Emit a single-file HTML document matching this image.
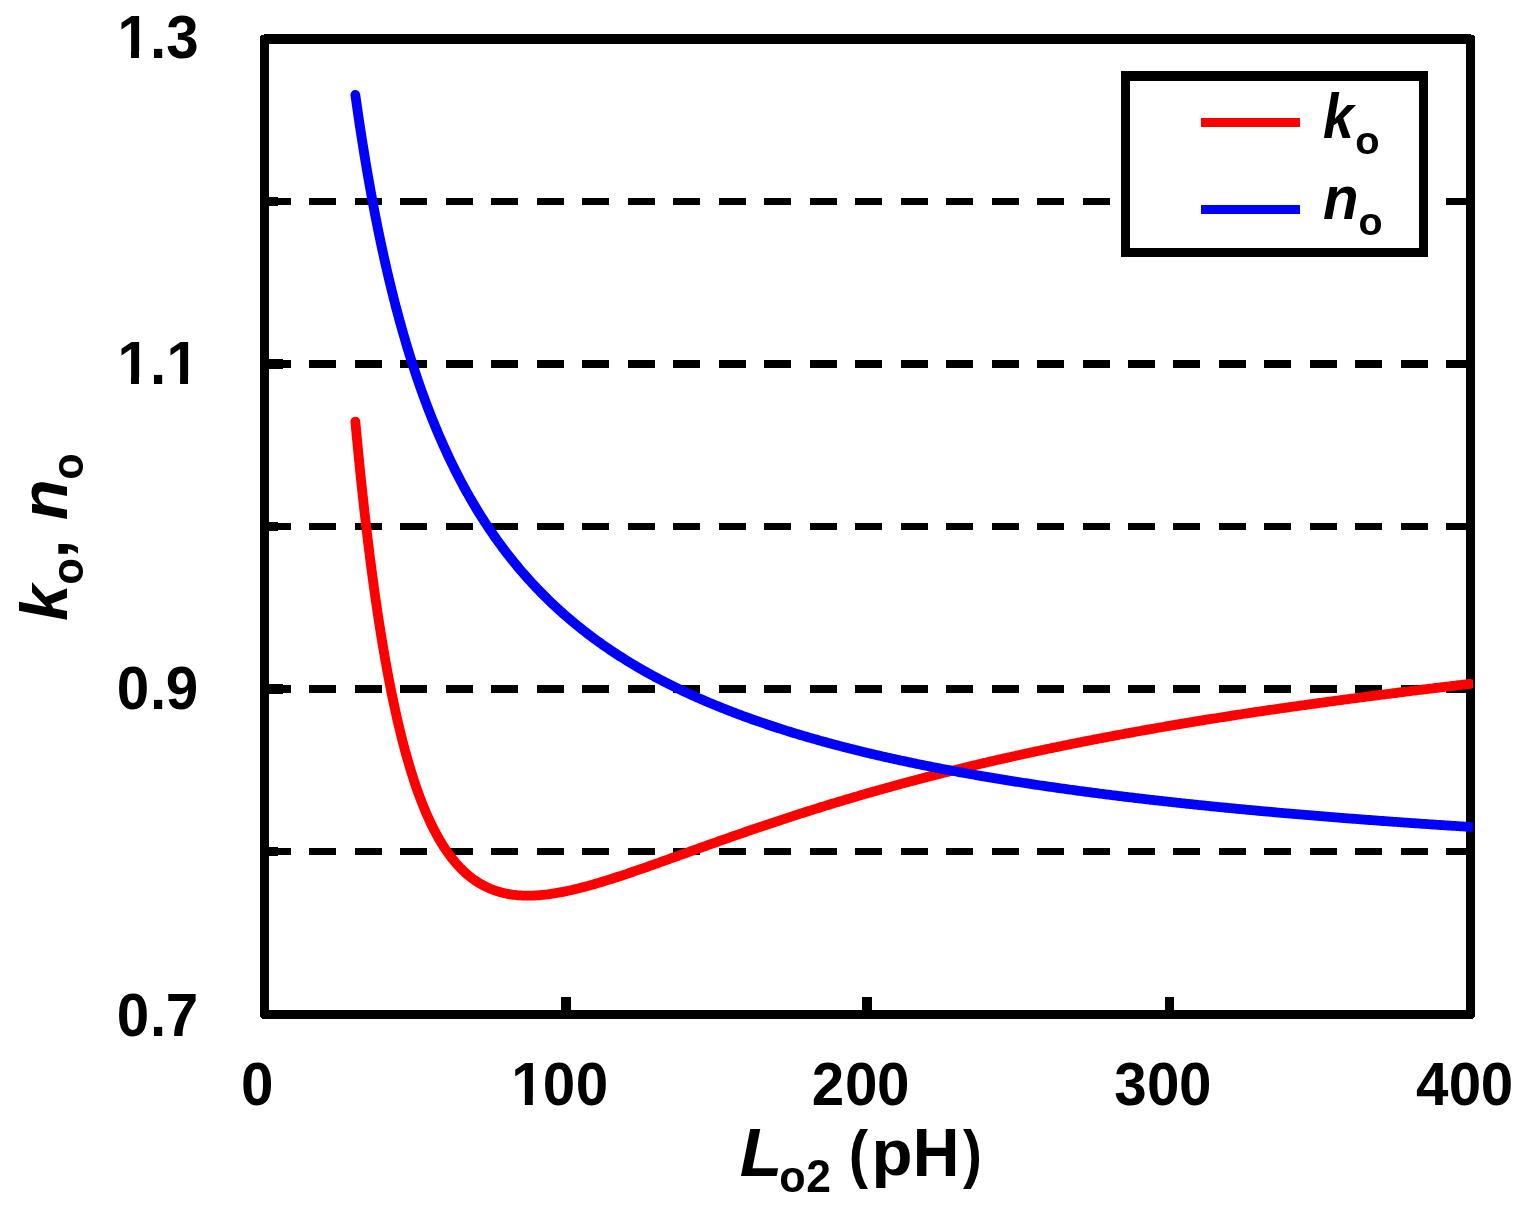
<!DOCTYPE html>
<html lang="en"><head><meta charset="utf-8"><title>k_o, n_o versus L_o2</title>
<style>html,body{margin:0;padding:0;background:#fff}body{width:1525px;height:1220px;overflow:hidden}svg{display:block}text{font-family:"Liberation Sans",sans-serif;font-weight:bold;font-size:58.33px;fill:#000}.i{font-style:italic}.tk{font-size:58.33px}</style></head><body>
<svg width="1525" height="1220" viewBox="0 0 1525 1220">
<rect x="0" y="0" width="1525" height="1220" fill="#fff"/>
<g fill="#000" shape-rendering="crispEdges">
<path d="M264,198h27v7h-27zM309,198h27v7h-27zM355,198h27v7h-27zM400,198h27v7h-27zM446,198h27v7h-27zM491,198h27v7h-27zM537,198h27v7h-27zM582,198h27v7h-27zM628,198h27v7h-27zM673,198h27v7h-27zM719,198h27v7h-27zM764,198h27v7h-27zM810,198h27v7h-27zM855,198h27v7h-27zM901,198h27v7h-27zM946,198h27v7h-27zM992,198h27v7h-27zM1037,198h27v7h-27zM1083,198h27v7h-27zM1128,198h27v7h-27zM1173,198h27v7h-27zM1219,198h27v7h-27zM1264,198h27v7h-27zM1310,198h27v7h-27zM1355,198h27v7h-27zM1401,198h27v7h-27zM1446,198h24v7h-24z"/>
<path d="M264,360h27v8h-27zM309,360h27v8h-27zM355,360h27v8h-27zM400,360h27v8h-27zM446,360h27v8h-27zM491,360h27v8h-27zM537,360h27v8h-27zM582,360h27v8h-27zM628,360h27v8h-27zM673,360h27v8h-27zM719,360h27v8h-27zM764,360h27v8h-27zM810,360h27v8h-27zM855,360h27v8h-27zM901,360h27v8h-27zM946,360h27v8h-27zM992,360h27v8h-27zM1037,360h27v8h-27zM1083,360h27v8h-27zM1128,360h27v8h-27zM1173,360h27v8h-27zM1219,360h27v8h-27zM1264,360h27v8h-27zM1310,360h27v8h-27zM1355,360h27v8h-27zM1401,360h27v8h-27zM1446,360h24v8h-24z"/>
<path d="M264,523h27v7h-27zM309,523h27v7h-27zM355,523h27v7h-27zM400,523h27v7h-27zM446,523h27v7h-27zM491,523h27v7h-27zM537,523h27v7h-27zM582,523h27v7h-27zM628,523h27v7h-27zM673,523h27v7h-27zM719,523h27v7h-27zM764,523h27v7h-27zM810,523h27v7h-27zM855,523h27v7h-27zM901,523h27v7h-27zM946,523h27v7h-27zM992,523h27v7h-27zM1037,523h27v7h-27zM1083,523h27v7h-27zM1128,523h27v7h-27zM1173,523h27v7h-27zM1219,523h27v7h-27zM1264,523h27v7h-27zM1310,523h27v7h-27zM1355,523h27v7h-27zM1401,523h27v7h-27zM1446,523h24v7h-24z"/>
<path d="M264,685h27v8h-27zM309,685h27v8h-27zM355,685h27v8h-27zM400,685h27v8h-27zM446,685h27v8h-27zM491,685h27v8h-27zM537,685h27v8h-27zM582,685h27v8h-27zM628,685h27v8h-27zM673,685h27v8h-27zM719,685h27v8h-27zM764,685h27v8h-27zM810,685h27v8h-27zM855,685h27v8h-27zM901,685h27v8h-27zM946,685h27v8h-27zM992,685h27v8h-27zM1037,685h27v8h-27zM1083,685h27v8h-27zM1128,685h27v8h-27zM1173,685h27v8h-27zM1219,685h27v8h-27zM1264,685h27v8h-27zM1310,685h27v8h-27zM1355,685h27v8h-27zM1401,685h27v8h-27zM1446,685h24v8h-24z"/>
<path d="M264,848h27v7h-27zM309,848h27v7h-27zM355,848h27v7h-27zM400,848h27v7h-27zM446,848h27v7h-27zM491,848h27v7h-27zM537,848h27v7h-27zM582,848h27v7h-27zM628,848h27v7h-27zM673,848h27v7h-27zM719,848h27v7h-27zM764,848h27v7h-27zM810,848h27v7h-27zM855,848h27v7h-27zM901,848h27v7h-27zM946,848h27v7h-27zM992,848h27v7h-27zM1037,848h27v7h-27zM1083,848h27v7h-27zM1128,848h27v7h-27zM1173,848h27v7h-27zM1219,848h27v7h-27zM1264,848h27v7h-27zM1310,848h27v7h-27zM1355,848h27v7h-27zM1401,848h27v7h-27zM1446,848h24v7h-24z"/>
<rect x="264" y="197" width="14" height="9"/>
<rect x="264" y="359" width="19" height="10"/>
<rect x="264" y="522" width="14" height="9"/>
<rect x="264" y="684" width="19" height="10"/>
<rect x="264" y="847" width="14" height="9"/>
<rect x="561" y="997" width="10" height="18"/>
<rect x="862" y="997" width="10" height="18"/>
<rect x="1165" y="997" width="9" height="18"/>
<path d="M264,34H1471V35H1474V36H1475V1017H1474V1018H1473V1019H262V1018H261V1017H260V36H261V35H264Z M269,44V1010H1466V44Z" fill-rule="evenodd"/>
</g>
<clipPath id="cp"><rect x="260" y="34" width="1213" height="985"/></clipPath>
<g fill="none" stroke-width="9.8" stroke-linejoin="round" stroke-linecap="round" clip-path="url(#cp)">
<path d="M355.34,421.53 L356.85,437.69 L358.35,453.30 L359.86,468.38 L361.36,482.96 L362.87,497.05 L364.37,510.67 L365.88,523.85 L367.38,536.58 L368.89,548.90 L370.40,560.82 L371.90,572.35 L373.41,583.51 L374.91,594.30 L376.42,604.75 L377.92,614.86 L379.43,624.64 L380.93,634.11 L382.44,643.28 L383.94,652.15 L385.45,660.74 L386.95,669.06 L388.46,677.11 L389.96,684.90 L391.47,692.45 L392.98,699.76 L394.48,706.83 L395.99,713.68 L397.49,720.31 L399.00,726.73 L400.50,732.95 L402.01,738.97 L403.51,744.80 L405.02,750.44 L406.52,755.90 L408.03,761.19 L409.53,766.31 L411.04,771.27 L412.54,776.06 L414.05,780.70 L415.55,785.20 L417.06,789.54 L418.57,793.75 L420.07,797.82 L421.58,801.76 L423.08,805.57 L424.59,809.25 L426.09,812.81 L427.60,816.26 L429.10,819.59 L430.61,822.81 L432.11,825.93 L433.62,828.94 L435.12,831.84 L436.63,834.65 L438.13,837.37 L439.64,839.99 L441.15,842.52 L442.65,844.96 L444.16,847.32 L445.66,849.60 L447.17,851.79 L448.67,853.91 L450.18,855.95 L451.68,857.92 L453.19,859.82 L454.69,861.64 L456.20,863.40 L457.70,865.09 L459.21,866.72 L460.71,868.29 L462.22,869.80 L463.73,871.25 L465.23,872.64 L466.74,873.98 L468.24,875.26 L469.75,876.49 L471.25,877.67 L472.76,878.80 L474.26,879.88 L475.77,880.91 L477.27,881.90 L478.78,882.85 L480.28,883.75 L481.79,884.61 L483.29,885.43 L484.80,886.21 L486.31,886.95 L487.81,887.65 L489.32,888.32 L490.82,888.95 L492.33,889.55 L493.83,890.12 L495.34,890.65 L496.84,891.15 L498.35,891.62 L499.85,892.06 L501.36,892.47 L502.86,892.85 L504.37,893.20 L505.87,893.53 L507.38,893.83 L508.88,894.11 L510.39,894.36 L511.90,894.59 L513.40,894.79 L514.91,894.97 L516.41,895.13 L517.92,895.27 L519.42,895.38 L520.93,895.48 L522.43,895.56 L523.94,895.61 L525.44,895.65 L526.95,895.67 L528.45,895.68 L529.96,895.66 L531.46,895.63 L532.97,895.58 L534.48,895.52 L535.98,895.44 L537.49,895.35 L538.99,895.24 L540.50,895.12 L542.00,894.98 L543.51,894.83 L545.01,894.67 L546.52,894.50 L548.02,894.31 L549.53,894.11 L551.03,893.90 L552.54,893.68 L554.04,893.45 L555.55,893.20 L557.06,892.95 L558.56,892.69 L560.07,892.41 L561.57,892.13 L563.08,891.84 L564.58,891.54 L566.09,891.23 L567.59,890.91 L569.10,890.58 L570.60,890.25 L572.11,889.91 L573.61,889.56 L575.12,889.20 L576.62,888.84 L578.13,888.47 L579.64,888.09 L581.14,887.71 L582.65,887.32 L584.15,886.92 L585.66,886.52 L587.16,886.11 L588.67,885.70 L590.17,885.28 L591.68,884.86 L593.18,884.43 L594.69,884.00 L596.19,883.56 L597.70,883.12 L599.20,882.67 L600.71,882.22 L602.21,881.76 L603.72,881.31 L605.23,880.84 L606.73,880.38 L608.24,879.91 L609.74,879.43 L611.25,878.96 L612.75,878.48 L614.26,877.99 L615.76,877.51 L617.27,877.02 L618.77,876.53 L620.28,876.03 L621.78,875.53 L623.29,875.03 L624.79,874.53 L626.30,874.03 L627.81,873.52 L629.32,873.01 L630.82,872.50 L632.33,871.99 L633.84,871.47 L635.35,870.95 L636.85,870.44 L638.36,869.92 L639.87,869.39 L641.38,868.87 L642.88,868.35 L644.39,867.82 L645.90,867.29 L647.40,866.76 L648.91,866.23 L650.42,865.70 L651.93,865.17 L653.43,864.64 L654.94,864.11 L656.45,863.57 L657.96,863.04 L659.47,862.50 L660.97,861.96 L662.48,861.43 L663.99,860.89 L665.50,860.35 L667.00,859.81 L668.51,859.27 L670.02,858.73 L671.53,858.19 L673.03,857.65 L674.54,857.11 L676.05,856.57 L677.56,856.03 L679.06,855.49 L680.57,854.95 L682.08,854.41 L683.59,853.87 L685.09,853.33 L686.60,852.79 L688.11,852.25 L689.62,851.70 L691.12,851.16 L692.63,850.62 L694.14,850.08 L695.64,849.54 L697.15,849.00 L698.66,848.46 L700.17,847.92 L701.67,847.39 L703.18,846.85 L704.69,846.31 L706.20,845.77 L707.70,845.23 L709.21,844.70 L710.72,844.16 L712.23,843.63 L713.74,843.09 L715.24,842.56 L716.75,842.02 L718.26,841.49 L719.76,840.95 L721.27,840.42 L722.78,839.89 L724.29,839.36 L725.80,838.83 L727.30,838.30 L728.81,837.77 L730.32,837.24 L731.83,836.71 L733.33,836.19 L734.84,835.66 L736.35,835.14 L737.86,834.61 L739.36,834.09 L740.87,833.57 L742.38,833.04 L743.88,832.52 L745.39,832.00 L746.90,831.48 L748.41,830.97 L749.91,830.45 L751.42,829.93 L752.93,829.42 L754.44,828.90 L755.94,828.39 L757.45,827.87 L758.96,827.36 L760.47,826.85 L761.97,826.34 L763.48,825.83 L764.99,825.32 L766.50,824.82 L768.00,824.31 L769.51,823.81 L771.02,823.30 L772.53,822.80 L774.03,822.30 L775.54,821.80 L777.05,821.30 L778.56,820.80 L780.06,820.30 L781.57,819.80 L783.08,819.31 L784.59,818.81 L786.10,818.32 L787.60,817.82 L789.11,817.33 L790.62,816.84 L792.12,816.35 L793.63,815.86 L795.14,815.38 L796.65,814.89 L798.15,814.41 L799.66,813.92 L801.17,813.44 L802.68,812.96 L804.19,812.48 L805.69,812.00 L807.20,811.52 L808.71,811.04 L810.22,810.57 L811.72,810.09 L813.23,809.62 L814.74,809.14 L816.25,808.67 L817.75,808.20 L819.26,807.73 L820.77,807.26 L822.27,806.80 L823.78,806.33 L825.29,805.87 L826.80,805.40 L828.31,804.94 L829.81,804.48 L831.32,804.02 L832.83,803.56 L834.33,803.10 L835.84,802.64 L837.35,802.19 L838.86,801.73 L840.37,801.28 L841.87,800.83 L843.38,800.37 L844.89,799.92 L846.39,799.47 L847.90,799.03 L849.41,798.58 L850.92,798.13 L852.42,797.69 L853.93,797.25 L855.44,796.80 L856.95,796.36 L858.46,795.92 L859.96,795.48 L861.47,795.05 L862.98,794.61 L864.49,794.17 L865.99,793.74 L867.50,793.31 L869.01,792.87 L870.51,792.44 L872.02,792.01 L873.53,791.58 L875.04,791.15 L876.54,790.73 L878.05,790.30 L879.56,789.88 L881.07,789.45 L882.57,789.03 L884.08,788.61 L885.59,788.19 L887.10,787.77 L888.60,787.35 L890.11,786.94 L891.62,786.52 L893.13,786.11 L894.63,785.69 L896.14,785.28 L897.65,784.87 L899.16,784.46 L900.66,784.05 L902.17,783.64 L903.68,783.23 L905.19,782.83 L906.69,782.42 L908.20,782.02 L909.71,781.62 L911.22,781.21 L912.73,780.81 L914.23,780.41 L915.74,780.02 L917.25,779.62 L918.75,779.22 L920.26,778.83 L921.77,778.43 L923.28,778.04 L924.78,777.65 L926.29,777.25 L927.80,776.86 L929.31,776.47 L930.81,776.09 L932.32,775.70 L933.83,775.31 L935.34,774.93 L936.85,774.54 L938.35,774.16 L939.86,773.78 L941.37,773.40 L942.88,773.02 L944.38,772.64 L945.89,772.26 L947.40,771.88 L948.90,771.51 L950.41,771.13 L951.92,770.76 L953.43,770.39 L954.94,770.01 L956.44,769.64 L957.95,769.27 L959.46,768.90 L960.97,768.54 L962.47,768.17 L963.98,767.80 L965.49,767.44 L967.00,767.07 L968.50,766.71 L970.01,766.35 L971.52,765.99 L973.02,765.63 L974.53,765.27 L976.04,764.91 L977.55,764.55 L979.06,764.19 L980.56,763.84 L982.07,763.48 L983.58,763.13 L985.09,762.78 L986.59,762.43 L988.10,762.07 L989.61,761.72 L991.12,761.38 L992.62,761.03 L994.13,760.68 L995.64,760.33 L997.15,759.99 L998.65,759.64 L1000.16,759.30 L1001.67,758.96 L1003.18,758.62 L1004.68,758.27 L1006.19,757.93 L1007.70,757.60 L1009.21,757.26 L1010.71,756.92 L1012.22,756.58 L1013.73,756.25 L1015.24,755.91 L1016.74,755.58 L1018.25,755.25 L1019.76,754.91 L1021.26,754.58 L1022.77,754.25 L1024.28,753.92 L1025.79,753.60 L1027.30,753.27 L1028.80,752.94 L1030.31,752.61 L1031.82,752.29 L1033.32,751.97 L1034.83,751.64 L1036.34,751.32 L1037.85,751.00 L1039.36,750.68 L1040.86,750.36 L1042.37,750.04 L1043.88,749.72 L1045.38,749.40 L1046.89,749.08 L1048.40,748.77 L1049.91,748.45 L1051.41,748.14 L1052.92,747.83 L1054.43,747.51 L1055.94,747.20 L1057.44,746.89 L1058.95,746.58 L1060.46,746.27 L1061.97,745.96 L1063.47,745.65 L1064.98,745.35 L1066.49,745.04 L1068.00,744.73 L1069.51,744.43 L1071.01,744.13 L1072.52,743.82 L1074.03,743.52 L1075.53,743.22 L1077.04,742.92 L1078.55,742.62 L1080.06,742.32 L1081.57,742.02 L1083.07,741.72 L1084.58,741.42 L1086.09,741.13 L1087.60,740.83 L1089.10,740.54 L1090.61,740.24 L1092.12,739.95 L1093.62,739.66 L1095.13,739.37 L1096.64,739.08 L1098.15,738.78 L1099.65,738.50 L1101.16,738.21 L1102.67,737.92 L1104.18,737.63 L1105.68,737.34 L1107.19,737.06 L1108.70,736.77 L1110.21,736.49 L1111.72,736.20 L1113.22,735.92 L1114.73,735.64 L1116.24,735.36 L1117.74,735.08 L1119.25,734.80 L1120.76,734.52 L1122.27,734.24 L1123.78,733.96 L1125.28,733.68 L1126.79,733.41 L1128.30,733.13 L1129.81,732.85 L1131.31,732.58 L1132.82,732.31 L1134.33,732.03 L1135.84,731.76 L1137.34,731.49 L1138.85,731.22 L1140.36,730.95 L1141.87,730.68 L1143.37,730.41 L1144.88,730.14 L1146.39,729.87 L1147.89,729.60 L1149.40,729.34 L1150.91,729.07 L1152.42,728.81 L1153.93,728.54 L1155.43,728.28 L1156.94,728.01 L1158.45,727.75 L1159.95,727.49 L1161.46,727.23 L1162.97,726.97 L1164.48,726.71 L1165.99,726.45 L1167.49,726.19 L1169.00,725.93 L1170.51,725.67 L1172.01,725.42 L1173.52,725.16 L1175.03,724.90 L1176.54,724.65 L1178.05,724.39 L1179.55,724.14 L1181.06,723.89 L1182.57,723.63 L1184.07,723.38 L1185.58,723.13 L1187.09,722.88 L1188.60,722.63 L1190.11,722.38 L1191.61,722.13 L1193.12,721.88 L1194.63,721.63 L1196.13,721.39 L1197.64,721.14 L1199.15,720.89 L1200.66,720.65 L1202.16,720.40 L1203.67,720.16 L1205.18,719.92 L1206.69,719.67 L1208.19,719.43 L1209.70,719.19 L1211.21,718.95 L1212.72,718.71 L1214.22,718.47 L1215.73,718.23 L1217.24,717.99 L1218.75,717.75 L1220.26,717.51 L1221.76,717.27 L1223.27,717.04 L1224.78,716.80 L1226.28,716.57 L1227.79,716.33 L1229.30,716.10 L1230.81,715.86 L1232.32,715.63 L1233.82,715.39 L1235.33,715.16 L1236.84,714.93 L1238.35,714.70 L1239.85,714.47 L1241.36,714.24 L1242.87,714.01 L1244.38,713.78 L1245.88,713.55 L1247.39,713.32 L1248.90,713.10 L1250.40,712.87 L1251.91,712.64 L1253.42,712.42 L1254.93,712.19 L1256.43,711.97 L1257.94,711.74 L1259.45,711.52 L1260.96,711.29 L1262.47,711.07 L1263.97,710.85 L1265.48,710.63 L1266.99,710.41 L1268.49,710.18 L1270.00,709.96 L1271.51,709.74 L1273.02,709.53 L1274.53,709.31 L1276.03,709.09 L1277.54,708.87 L1279.05,708.65 L1280.56,708.44 L1282.06,708.22 L1283.57,708.00 L1285.08,707.79 L1286.59,707.57 L1288.09,707.36 L1289.60,707.15 L1291.11,706.93 L1292.62,706.72 L1294.12,706.51 L1295.63,706.29 L1297.14,706.08 L1298.64,705.87 L1300.15,705.66 L1301.66,705.45 L1303.17,705.24 L1304.67,705.03 L1306.18,704.82 L1307.69,704.61 L1309.20,704.40 L1310.71,704.19 L1312.21,703.98 L1313.72,703.78 L1315.23,703.57 L1316.74,703.36 L1318.24,703.15 L1319.75,702.95 L1321.26,702.74 L1322.76,702.54 L1324.27,702.33 L1325.78,702.12 L1327.29,701.92 L1328.79,701.71 L1330.30,701.51 L1331.81,701.31 L1333.32,701.10 L1334.83,700.90 L1336.33,700.70 L1337.84,700.49 L1339.35,700.29 L1340.86,700.09 L1342.36,699.89 L1343.87,699.69 L1345.38,699.49 L1346.88,699.29 L1348.39,699.09 L1349.90,698.89 L1351.41,698.69 L1352.91,698.49 L1354.42,698.29 L1355.93,698.09 L1357.44,697.89 L1358.94,697.69 L1360.45,697.50 L1361.96,697.30 L1363.47,697.10 L1364.97,696.90 L1366.48,696.71 L1367.99,696.51 L1369.50,696.31 L1371.00,696.12 L1372.51,695.92 L1374.02,695.73 L1375.53,695.53 L1377.04,695.34 L1378.54,695.15 L1380.05,694.95 L1381.56,694.76 L1383.07,694.56 L1384.57,694.37 L1386.08,694.18 L1387.59,693.99 L1389.10,693.79 L1390.60,693.60 L1392.11,693.41 L1393.62,693.22 L1395.12,693.03 L1396.63,692.84 L1398.14,692.65 L1399.65,692.46 L1401.15,692.27 L1402.66,692.08 L1404.17,691.89 L1405.68,691.70 L1407.18,691.51 L1408.69,691.32 L1410.20,691.13 L1411.71,690.95 L1413.21,690.76 L1414.72,690.57 L1416.23,690.38 L1417.74,690.20 L1419.25,690.01 L1420.75,689.82 L1422.26,689.64 L1423.77,689.45 L1425.28,689.27 L1426.78,689.08 L1428.29,688.89 L1429.80,688.71 L1431.31,688.53 L1432.81,688.34 L1434.32,688.16 L1435.83,687.97 L1437.34,687.79 L1438.84,687.61 L1440.35,687.42 L1441.86,687.24 L1443.37,687.06 L1444.87,686.87 L1446.38,686.69 L1447.89,686.51 L1449.39,686.33 L1450.90,686.15 L1452.41,685.97 L1453.92,685.79 L1455.42,685.60 L1456.93,685.42 L1458.44,685.24 L1459.95,685.06 L1461.46,684.88 L1462.96,684.70 L1464.47,684.52 L1465.98,684.35 L1467.49,684.17 L1468.99,683.99 L1470.50,683.81" stroke="#f00"/>
<path d="M355.34,94.89 L356.85,105.53 L358.35,115.88 L359.86,125.96 L361.36,135.77 L362.87,145.33 L364.37,154.64 L365.88,163.72 L367.38,172.57 L368.89,181.21 L370.40,189.64 L371.90,197.86 L373.41,205.89 L374.91,213.74 L376.42,221.40 L377.92,228.89 L379.43,236.21 L380.93,243.37 L382.44,250.38 L383.94,257.23 L385.45,263.94 L386.95,270.50 L388.46,276.93 L389.96,283.22 L391.47,289.38 L392.98,295.42 L394.48,301.34 L395.99,307.15 L397.49,312.84 L399.00,318.42 L400.50,323.89 L402.01,329.26 L403.51,334.52 L405.02,339.69 L406.52,344.77 L408.03,349.75 L409.53,354.64 L411.04,359.44 L412.54,364.16 L414.05,368.80 L415.55,373.36 L417.06,377.83 L418.57,382.23 L420.07,386.56 L421.58,390.82 L423.08,395.00 L424.59,399.11 L426.09,403.16 L427.60,407.14 L429.10,411.06 L430.61,414.92 L432.11,418.71 L433.62,422.45 L435.12,426.12 L436.63,429.74 L438.13,433.31 L439.64,436.82 L441.15,440.28 L442.65,443.69 L444.16,447.04 L445.66,450.35 L447.17,453.61 L448.67,456.82 L450.18,459.99 L451.68,463.11 L453.19,466.19 L454.69,469.22 L456.20,472.21 L457.70,475.16 L459.21,478.07 L460.71,480.94 L462.22,483.77 L463.73,486.57 L465.23,489.32 L466.74,492.04 L468.24,494.72 L469.75,497.37 L471.25,499.99 L472.76,502.57 L474.26,505.11 L475.77,507.63 L477.27,510.11 L478.78,512.56 L480.28,514.98 L481.79,517.37 L483.29,519.73 L484.80,522.07 L486.31,524.37 L487.81,526.65 L489.32,528.90 L490.82,531.12 L492.33,533.31 L493.83,535.48 L495.34,537.63 L496.84,539.75 L498.35,541.84 L499.85,543.91 L501.36,545.96 L502.86,547.98 L504.37,549.98 L505.87,551.96 L507.38,553.91 L508.88,555.85 L510.39,557.76 L511.90,559.65 L513.40,561.52 L514.91,563.37 L516.41,565.20 L517.92,567.01 L519.42,568.80 L520.93,570.57 L522.43,572.32 L523.94,574.06 L525.44,575.77 L526.95,577.47 L528.45,579.15 L529.96,580.81 L531.46,582.46 L532.97,584.09 L534.48,585.70 L535.98,587.29 L537.49,588.87 L538.99,590.44 L540.50,591.99 L542.00,593.52 L543.51,595.04 L545.01,596.54 L546.52,598.03 L548.02,599.50 L549.53,600.96 L551.03,602.41 L552.54,603.84 L554.04,605.25 L555.55,606.66 L557.06,608.05 L558.56,609.43 L560.07,610.79 L561.57,612.14 L563.08,613.48 L564.58,614.81 L566.09,616.12 L567.59,617.42 L569.10,618.71 L570.60,619.99 L572.11,621.26 L573.61,622.52 L575.12,623.76 L576.62,624.99 L578.13,626.22 L579.64,627.43 L581.14,628.63 L582.65,629.82 L584.15,631.00 L585.66,632.17 L587.16,633.33 L588.67,634.48 L590.17,635.62 L591.68,636.75 L593.18,637.87 L594.69,638.98 L596.19,640.08 L597.70,641.17 L599.20,642.25 L600.71,643.33 L602.21,644.39 L603.72,645.45 L605.23,646.50 L606.73,647.53 L608.24,648.57 L609.74,649.59 L611.25,650.60 L612.75,651.61 L614.26,652.60 L615.76,653.59 L617.27,654.57 L618.77,655.55 L620.28,656.51 L621.78,657.47 L623.29,658.42 L624.79,659.37 L626.30,660.30 L627.81,661.23 L629.32,662.16 L630.82,663.07 L632.33,663.98 L633.84,664.88 L635.35,665.78 L636.85,666.67 L638.36,667.55 L639.87,668.43 L641.38,669.29 L642.88,670.16 L644.39,671.01 L645.90,671.86 L647.40,672.70 L648.91,673.54 L650.42,674.37 L651.93,675.20 L653.43,676.02 L654.94,676.83 L656.45,677.64 L657.96,678.44 L659.47,679.23 L660.97,680.02 L662.48,680.81 L663.99,681.59 L665.50,682.36 L667.00,683.13 L668.51,683.89 L670.02,684.65 L671.53,685.40 L673.03,686.15 L674.54,686.89 L676.05,687.63 L677.56,688.36 L679.06,689.09 L680.57,689.81 L682.08,690.52 L683.59,691.24 L685.09,691.94 L686.60,692.65 L688.11,693.35 L689.62,694.04 L691.12,694.73 L692.63,695.41 L694.14,696.09 L695.64,696.77 L697.15,697.44 L698.66,698.11 L700.17,698.77 L701.67,699.43 L703.18,700.08 L704.69,700.73 L706.20,701.38 L707.70,702.02 L709.21,702.66 L710.72,703.29 L712.23,703.92 L713.74,704.55 L715.24,705.17 L716.75,705.79 L718.26,706.40 L719.76,707.01 L721.27,707.62 L722.78,708.22 L724.29,708.82 L725.80,709.42 L727.30,710.01 L728.81,710.60 L730.32,711.18 L731.83,711.77 L733.33,712.34 L734.84,712.92 L736.35,713.49 L737.86,714.06 L739.36,714.62 L740.87,715.18 L742.38,715.74 L743.88,716.30 L745.39,716.85 L746.90,717.40 L748.41,717.94 L749.91,718.48 L751.42,719.02 L752.93,719.56 L754.44,720.09 L755.94,720.62 L757.45,721.15 L758.96,721.67 L760.47,722.19 L761.97,722.71 L763.48,723.22 L764.99,723.73 L766.50,724.24 L768.00,724.75 L769.51,725.25 L771.02,725.75 L772.53,726.25 L774.03,726.75 L775.54,727.24 L777.05,727.73 L778.56,728.22 L780.06,728.70 L781.57,729.18 L783.08,729.66 L784.59,730.14 L786.10,730.61 L787.60,731.08 L789.11,731.55 L790.62,732.02 L792.12,732.48 L793.63,732.94 L795.14,733.40 L796.65,733.86 L798.15,734.31 L799.66,734.77 L801.17,735.22 L802.68,735.66 L804.19,736.11 L805.69,736.55 L807.20,736.99 L808.71,737.43 L810.22,737.86 L811.72,738.30 L813.23,738.73 L814.74,739.16 L816.25,739.58 L817.75,740.01 L819.26,740.43 L820.77,740.85 L822.27,741.27 L823.78,741.69 L825.29,742.10 L826.80,742.51 L828.31,742.92 L829.81,743.33 L831.32,743.74 L832.83,744.14 L834.33,744.54 L835.84,744.94 L837.35,745.34 L838.86,745.73 L840.37,746.13 L841.87,746.52 L843.38,746.91 L844.89,747.30 L846.39,747.68 L847.90,748.07 L849.41,748.45 L850.92,748.83 L852.42,749.21 L853.93,749.59 L855.44,749.96 L856.95,750.33 L858.46,750.71 L859.96,751.08 L861.47,751.44 L862.98,751.81 L864.49,752.17 L865.99,752.54 L867.50,752.90 L869.01,753.26 L870.51,753.62 L872.02,753.97 L873.53,754.33 L875.04,754.68 L876.54,755.03 L878.05,755.38 L879.56,755.73 L881.07,756.07 L882.57,756.42 L884.08,756.76 L885.59,757.10 L887.10,757.44 L888.60,757.78 L890.11,758.12 L891.62,758.45 L893.13,758.79 L894.63,759.12 L896.14,759.45 L897.65,759.78 L899.16,760.11 L900.66,760.43 L902.17,760.76 L903.68,761.08 L905.19,761.40 L906.69,761.72 L908.20,762.04 L909.71,762.36 L911.22,762.67 L912.73,762.99 L914.23,763.30 L915.74,763.62 L917.25,763.93 L918.75,764.24 L920.26,764.54 L921.77,764.85 L923.28,765.15 L924.78,765.46 L926.29,765.76 L927.80,766.06 L929.31,766.36 L930.81,766.66 L932.32,766.96 L933.83,767.26 L935.34,767.55 L936.85,767.84 L938.35,768.14 L939.86,768.43 L941.37,768.72 L942.88,769.01 L944.38,769.29 L945.89,769.58 L947.40,769.86 L948.90,770.15 L950.41,770.43 L951.92,770.71 L953.43,770.99 L954.94,771.27 L956.44,771.55 L957.95,771.83 L959.46,772.10 L960.97,772.38 L962.47,772.65 L963.98,772.92 L965.49,773.19 L967.00,773.46 L968.50,773.73 L970.01,774.00 L971.52,774.27 L973.02,774.53 L974.53,774.80 L976.04,775.06 L977.55,775.32 L979.06,775.59 L980.56,775.85 L982.07,776.11 L983.58,776.36 L985.09,776.62 L986.59,776.88 L988.10,777.13 L989.61,777.39 L991.12,777.64 L992.62,777.89 L994.13,778.14 L995.64,778.39 L997.15,778.64 L998.65,778.89 L1000.16,779.14 L1001.67,779.38 L1003.18,779.63 L1004.68,779.87 L1006.19,780.12 L1007.70,780.36 L1009.21,780.60 L1010.71,780.84 L1012.22,781.08 L1013.73,781.32 L1015.24,781.56 L1016.74,781.80 L1018.25,782.03 L1019.76,782.27 L1021.26,782.50 L1022.77,782.73 L1024.28,782.97 L1025.79,783.20 L1027.30,783.43 L1028.80,783.66 L1030.31,783.89 L1031.82,784.12 L1033.32,784.34 L1034.83,784.57 L1036.34,784.80 L1037.85,785.02 L1039.36,785.24 L1040.86,785.47 L1042.37,785.69 L1043.88,785.91 L1045.38,786.13 L1046.89,786.35 L1048.40,786.57 L1049.91,786.79 L1051.41,787.01 L1052.92,787.22 L1054.43,787.44 L1055.94,787.65 L1057.44,787.87 L1058.95,788.08 L1060.46,788.29 L1061.97,788.50 L1063.47,788.72 L1064.98,788.93 L1066.49,789.14 L1068.00,789.34 L1069.51,789.55 L1071.01,789.76 L1072.52,789.97 L1074.03,790.17 L1075.53,790.38 L1077.04,790.58 L1078.55,790.79 L1080.06,790.99 L1081.57,791.19 L1083.07,791.39 L1084.58,791.59 L1086.09,791.79 L1087.60,791.99 L1089.10,792.19 L1090.61,792.39 L1092.12,792.59 L1093.62,792.78 L1095.13,792.98 L1096.64,793.17 L1098.15,793.37 L1099.65,793.56 L1101.16,793.76 L1102.67,793.95 L1104.18,794.14 L1105.68,794.33 L1107.19,794.52 L1108.70,794.71 L1110.21,794.90 L1111.72,795.09 L1113.22,795.28 L1114.73,795.46 L1116.24,795.65 L1117.74,795.84 L1119.25,796.02 L1120.76,796.21 L1122.27,796.39 L1123.78,796.58 L1125.28,796.76 L1126.79,796.94 L1128.30,797.12 L1129.81,797.30 L1131.31,797.48 L1132.82,797.66 L1134.33,797.84 L1135.84,798.02 L1137.34,798.20 L1138.85,798.38 L1140.36,798.55 L1141.87,798.73 L1143.37,798.91 L1144.88,799.08 L1146.39,799.26 L1147.89,799.43 L1149.40,799.60 L1150.91,799.78 L1152.42,799.95 L1153.93,800.12 L1155.43,800.29 L1156.94,800.46 L1158.45,800.63 L1159.95,800.80 L1161.46,800.97 L1162.97,801.14 L1164.48,801.31 L1165.99,801.47 L1167.49,801.64 L1169.00,801.81 L1170.51,801.97 L1172.01,802.14 L1173.52,802.30 L1175.03,802.47 L1176.54,802.63 L1178.05,802.79 L1179.55,802.96 L1181.06,803.12 L1182.57,803.28 L1184.07,803.44 L1185.58,803.60 L1187.09,803.76 L1188.60,803.92 L1190.11,804.08 L1191.61,804.24 L1193.12,804.40 L1194.63,804.55 L1196.13,804.71 L1197.64,804.87 L1199.15,805.02 L1200.66,805.18 L1202.16,805.33 L1203.67,805.49 L1205.18,805.64 L1206.69,805.80 L1208.19,805.95 L1209.70,806.10 L1211.21,806.26 L1212.72,806.41 L1214.22,806.56 L1215.73,806.71 L1217.24,806.86 L1218.75,807.01 L1220.26,807.16 L1221.76,807.31 L1223.27,807.46 L1224.78,807.60 L1226.28,807.75 L1227.79,807.90 L1229.30,808.05 L1230.81,808.19 L1232.32,808.34 L1233.82,808.48 L1235.33,808.63 L1236.84,808.77 L1238.35,808.92 L1239.85,809.06 L1241.36,809.21 L1242.87,809.35 L1244.38,809.49 L1245.88,809.63 L1247.39,809.77 L1248.90,809.92 L1250.40,810.06 L1251.91,810.20 L1253.42,810.34 L1254.93,810.48 L1256.43,810.62 L1257.94,810.75 L1259.45,810.89 L1260.96,811.03 L1262.47,811.17 L1263.97,811.30 L1265.48,811.44 L1266.99,811.58 L1268.49,811.71 L1270.00,811.85 L1271.51,811.98 L1273.02,812.12 L1274.53,812.25 L1276.03,812.39 L1277.54,812.52 L1279.05,812.65 L1280.56,812.79 L1282.06,812.92 L1283.57,813.05 L1285.08,813.18 L1286.59,813.31 L1288.09,813.45 L1289.60,813.58 L1291.11,813.71 L1292.62,813.84 L1294.12,813.97 L1295.63,814.09 L1297.14,814.22 L1298.64,814.35 L1300.15,814.48 L1301.66,814.61 L1303.17,814.73 L1304.67,814.86 L1306.18,814.99 L1307.69,815.11 L1309.20,815.24 L1310.71,815.37 L1312.21,815.49 L1313.72,815.62 L1315.23,815.74 L1316.74,815.86 L1318.24,815.99 L1319.75,816.11 L1321.26,816.23 L1322.76,816.36 L1324.27,816.48 L1325.78,816.60 L1327.29,816.72 L1328.79,816.84 L1330.30,816.97 L1331.81,817.09 L1333.32,817.21 L1334.83,817.33 L1336.33,817.45 L1337.84,817.57 L1339.35,817.69 L1340.86,817.80 L1342.36,817.92 L1343.87,818.04 L1345.38,818.16 L1346.88,818.28 L1348.39,818.39 L1349.90,818.51 L1351.41,818.63 L1352.91,818.74 L1354.42,818.86 L1355.93,818.97 L1357.44,819.09 L1358.94,819.20 L1360.45,819.32 L1361.96,819.43 L1363.47,819.55 L1364.97,819.66 L1366.48,819.78 L1367.99,819.89 L1369.50,820.00 L1371.00,820.11 L1372.51,820.23 L1374.02,820.34 L1375.53,820.45 L1377.04,820.56 L1378.54,820.67 L1380.05,820.78 L1381.56,820.89 L1383.07,821.00 L1384.57,821.11 L1386.08,821.22 L1387.59,821.33 L1389.10,821.44 L1390.60,821.55 L1392.11,821.66 L1393.62,821.77 L1395.12,821.88 L1396.63,821.98 L1398.14,822.09 L1399.65,822.20 L1401.15,822.31 L1402.66,822.41 L1404.17,822.52 L1405.68,822.62 L1407.18,822.73 L1408.69,822.84 L1410.20,822.94 L1411.71,823.05 L1413.21,823.15 L1414.72,823.25 L1416.23,823.36 L1417.74,823.46 L1419.25,823.57 L1420.75,823.67 L1422.26,823.77 L1423.77,823.88 L1425.28,823.98 L1426.78,824.08 L1428.29,824.18 L1429.80,824.28 L1431.31,824.39 L1432.81,824.49 L1434.32,824.59 L1435.83,824.69 L1437.34,824.79 L1438.84,824.89 L1440.35,824.99 L1441.86,825.09 L1443.37,825.19 L1444.87,825.29 L1446.38,825.39 L1447.89,825.49 L1449.39,825.59 L1450.90,825.68 L1452.41,825.78 L1453.92,825.88 L1455.42,825.98 L1456.93,826.08 L1458.44,826.17 L1459.95,826.27 L1461.46,826.37 L1462.96,826.46 L1464.47,826.56 L1465.98,826.65 L1467.49,826.75 L1468.99,826.85 L1470.50,826.94" stroke="#00f"/>
</g>
<g shape-rendering="crispEdges">
<path d="M1121,71H1428V257H1121Z M1130,81V248H1419V81Z" fill="#000" fill-rule="evenodd"/>
<rect x="1130" y="81" width="289" height="167" fill="#fff"/>
<rect x="1201" y="118" width="99" height="9" fill="#f00"/>
<rect x="1201" y="205" width="99" height="9" fill="#00f"/>
</g>
<text class="tk" transform="matrix(1 0 0 1.04 0 58)" x="117.42 149.88 166.16" y="0">1.3</text>
<text class="tk" transform="matrix(1 0 0 1.04 0 384)" x="117.42 149.88 166.52" y="0">1.1</text>
<text class="tk" transform="matrix(1 0 0 1.04 0 709)" x="116.72 149.88 165.85" y="0">0.9</text>
<text class="tk" transform="matrix(1 0 0 1.04 0 1036)" x="116.72 149.88 165.81" y="0">0.7</text>
<text class="tk" transform="matrix(1 0 0 1.04 0 1105)" x="240.92" y="0">0</text>
<text class="tk" transform="matrix(1 0 0 1.04 0 1105)" x="511.27 542.82 575.87" y="0">100</text>
<text class="tk" transform="matrix(1 0 0 1.04 0 1105)" x="811.84 844.92 876.92" y="0">200</text>
<text class="tk" transform="matrix(1 0 0 1.04 0 1105)" x="1114.16 1146.92 1179.02" y="0">300</text>
<text class="tk" transform="matrix(1 0 0 1.04 0 1105)" x="1415.90 1448.87 1480.87" y="0">400</text>
<rect x="119.92" y="51" width="11.05" height="8" fill="#fff"/>
<rect x="138.96" y="51" width="10.96" height="8" fill="#fff"/>
<rect x="119.92" y="377" width="11.05" height="8" fill="#fff"/>
<rect x="138.96" y="377" width="10.96" height="8" fill="#fff"/>
<rect x="169.02" y="377" width="11.05" height="8" fill="#fff"/>
<rect x="188.06" y="377" width="10.96" height="8" fill="#fff"/>
<rect x="513.77" y="1098" width="11.05" height="8" fill="#fff"/>
<rect x="532.81" y="1098" width="10.96" height="8" fill="#fff"/>
<text><tspan class="i" x="739.78" y="1176.00" font-size="68.24" textLength="42.50" lengthAdjust="spacingAndGlyphs">L</tspan><tspan x="779.31" y="1191.57" font-size="43.81" textLength="26.37" lengthAdjust="spacingAndGlyphs">o</tspan><tspan x="806.36" y="1192.00" font-size="46.26" textLength="24.72" lengthAdjust="spacingAndGlyphs">2</tspan><tspan> </tspan><tspan x="848.81" y="1176.29" font-size="64.15" textLength="19.35" lengthAdjust="spacingAndGlyphs">(</tspan><tspan x="871.57" y="1175.47" font-size="65.19" textLength="41.09" lengthAdjust="spacingAndGlyphs">p</tspan><tspan x="912.68" y="1176.00" font-size="68.32" textLength="46.68" lengthAdjust="spacingAndGlyphs">H</tspan><tspan x="962.94" y="1176.29" font-size="64.15" textLength="18.88" lengthAdjust="spacingAndGlyphs">)</tspan></text>
<text transform="rotate(-90)"><tspan class="i" x="-621.02" y="67.00" font-size="66.31" textLength="36.40" lengthAdjust="spacingAndGlyphs">k</tspan><tspan x="-584.80" y="82.57" font-size="43.99" textLength="26.60" lengthAdjust="spacingAndGlyphs">o</tspan><tspan x="-558.60" y="67.76" font-size="65.52" textLength="19.23" lengthAdjust="spacingAndGlyphs">,</tspan><tspan> </tspan><tspan class="i" x="-520.15" y="67.00" font-size="67.21" textLength="40.96" lengthAdjust="spacingAndGlyphs">n</tspan><tspan x="-479.79" y="82.57" font-size="43.99" textLength="26.49" lengthAdjust="spacingAndGlyphs">o</tspan></text>
<text><tspan class="i" x="1323.06" y="138.10" font-size="62.52" textLength="30.75" lengthAdjust="spacingAndGlyphs">k</tspan><tspan x="1355.35" y="153.63" font-size="38.33" textLength="24.31" lengthAdjust="spacingAndGlyphs">o</tspan></text>
<text><tspan class="i" x="1323.01" y="218.90" font-size="60.83" textLength="35.54" lengthAdjust="spacingAndGlyphs">n</tspan><tspan x="1358.46" y="234.82" font-size="38.88" textLength="24.08" lengthAdjust="spacingAndGlyphs">o</tspan></text>
</svg></body></html>
